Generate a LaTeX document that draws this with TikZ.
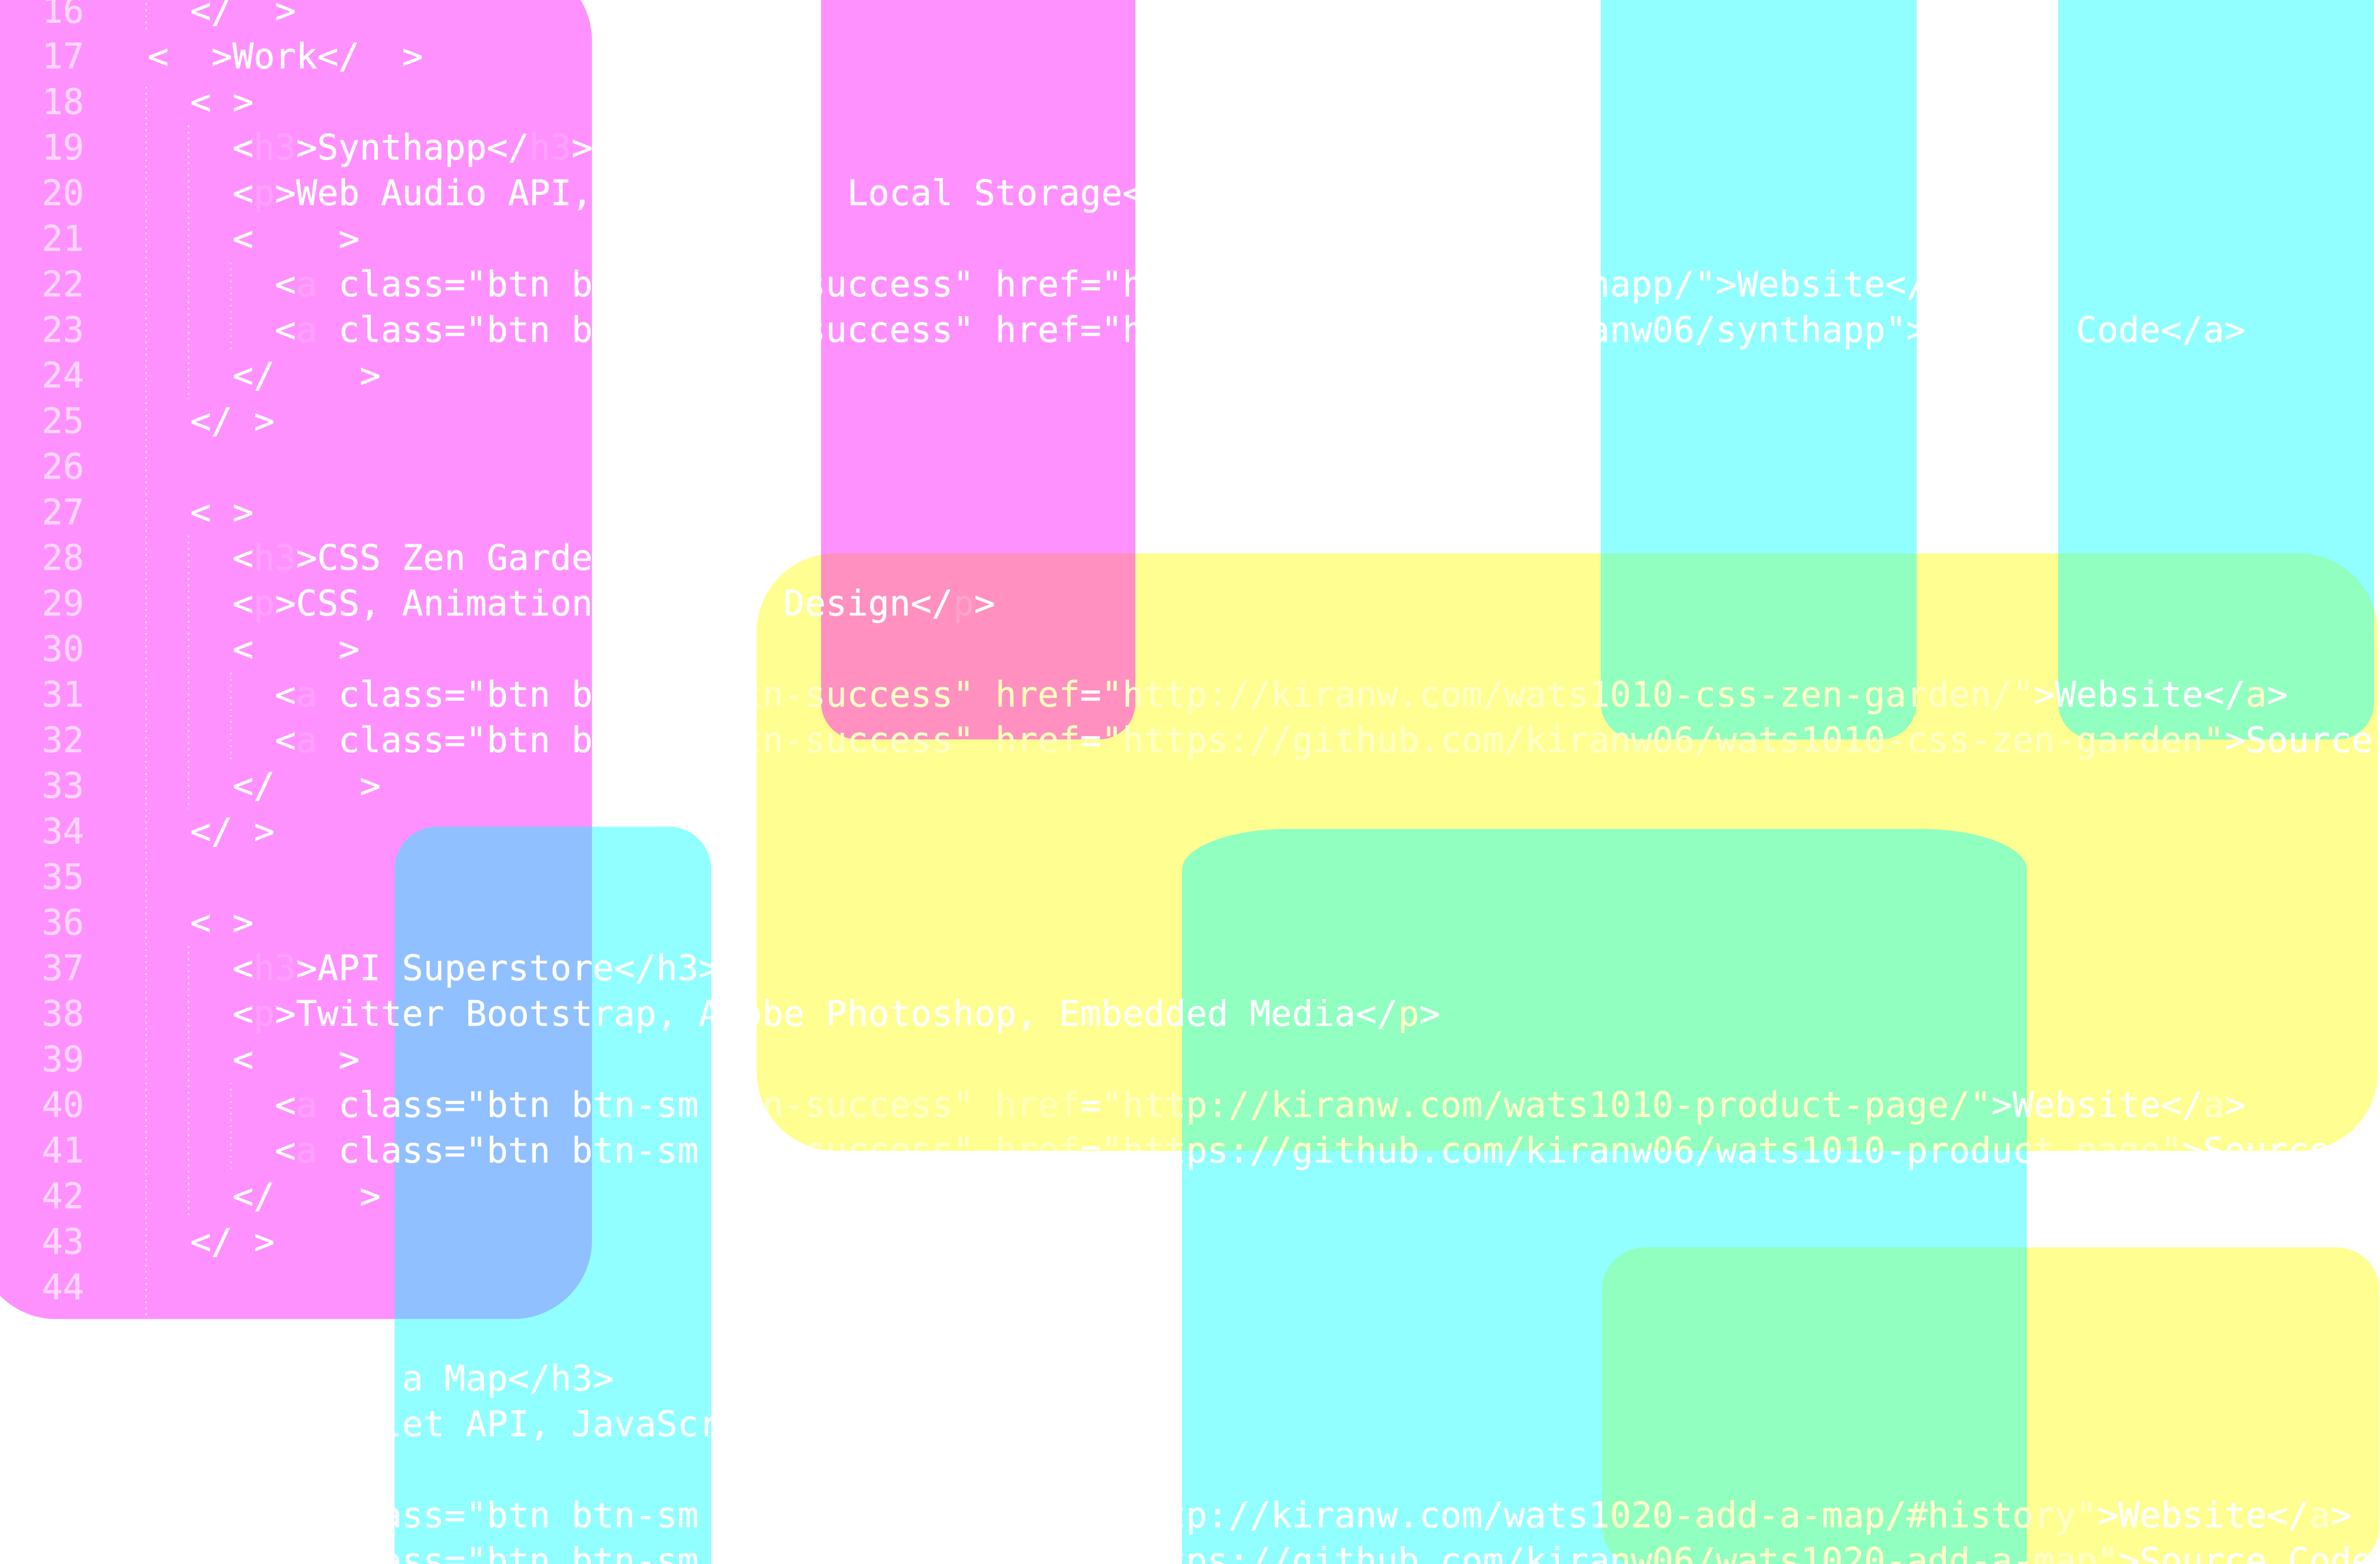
\documentclass[tikz,border=0pt]{standalone}
\usepackage{fontspec}
\newfontfamily\codefont{DejaVu Sans Mono}[FakeBold=0.7]
\definecolor{pmag}{RGB}{255,0,255}
\definecolor{pcya}{RGB}{0,255,255}
\definecolor{pyel}{RGB}{255,255,0}
\definecolor{tagM}{RGB}{255,160,255}
\definecolor{tagP}{RGB}{255,162,204}
\definecolor{fadeY}{RGB}{255,255,200}
\definecolor{attY}{RGB}{255,255,186}
\definecolor{numc}{RGB}{255,214,255}
\definecolor{guidec}{RGB}{255,200,255}
\newcommand\tM[1]{\textcolor{tagM}{#1}}
\newcommand\tP[1]{\textcolor{tagP}{#1}}
\newcommand\tY[1]{\textcolor{fadeY}{#1}}
\newcommand\sY[1]{\textcolor{fadeY}{#1}}
\newcommand\aY[1]{\textcolor{attY}{#1}}
\newcommand\cx[1]{27.5+13.96*#1}
\newcommand\by[1]{30.03*#1-465.51}
% rounded box path: x1 y1 x2 y2 rx ry (same orientation for every box)
\newcommand\rrect[6]{%
 (#1+#5,#2) -- (#3-#5,#2) .. controls (#3-0.448*#5,#2) and (#3,#2+0.448*#6) .. (#3,#2+#6)
 -- (#3,#4-#6) .. controls (#3,#4-0.448*#6) and (#3-0.448*#5,#4) .. (#3-#5,#4)
 -- (#1+#5,#4) .. controls (#1+0.448*#5,#4) and (#1,#4-0.448*#6) .. (#1,#4-#6)
 -- (#1,#2+#6) .. controls (#1,#2+0.448*#6) and (#1+0.448*#5,#2) .. (#1+#5,#2) -- cycle}
\newcommand\boxYa{\rrect{498.5}{364.5}{1566.5}{758}{52}{52}}
\newcommand\boxYb{\rrect{1055.5}{821.7}{1567.5}{1033}{28}{28}}
\newcommand\boxMa{\rrect{-15}{-25}{390}{868.8}{52}{52}}
\newcommand\boxMb{\rrect{541}{-40}{748}{487}{24}{24}}
\newcommand\boxCa{\rrect{1054.7}{-40}{1262.7}{487}{24}{24}}
\newcommand\boxCb{\rrect{1356}{-40}{1564}{487}{24}{24}}
\newcommand\boxCc{\rrect{260}{544.5}{468.5}{1080}{28}{28}}
\newcommand\boxCd{\rrect{778.7}{546}{1335.3}{1080}{70}{27}}
\tikzset{
  ybox/.style={fill=pyel, fill opacity=0.43},
  mbox/.style={fill=pmag, fill opacity=0.43},
  cbox/.style={fill=pcya, fill opacity=0.43},
  code/.style={anchor=base west, inner sep=0pt, outer sep=0pt,
    font=\codefont\fontsize{23.19}{27}\selectfont, text=white},
  lnum/.style={code, text=numc},
  guide/.style={draw=guidec, line width=1.4pt, dash pattern=on 1.4pt off 2.6pt}
}
\begin{document}
\begin{tikzpicture}[x=1pt,y=-1pt]
\useasboundingbox (0,0) rectangle (1568,1030);
\begin{scope}
\clip (0,0) rectangle (1568,1030);
% shapes: yellow below, magenta above, cyan on top
\fill[ybox] \boxYa;
\fill[ybox] \boxYb;
\fill[mbox] \boxMa;
\fill[mbox] \boxMb;
\fill[cbox] \boxCa;
\fill[cbox] \boxCb;
\fill[cbox] \boxCc;
\fill[cbox] \boxCd;
\begin{scope}
\clip \boxYa \boxYb \boxMa \boxMb \boxCa \boxCb \boxCc \boxCd;
% indentation guides
\draw[guide] (96.3,-30) -- (96.3,20);
\draw[guide] (96.3,57) -- (96.3,870);
\draw[guide] (124.2,82.6) -- (124.2,262.7);
\draw[guide] (124.2,352.8) -- (124.2,533);
\draw[guide] (124.2,623) -- (124.2,803);
\draw[guide] (152.1,172.7) -- (152.1,232.7);
\draw[guide] (152.1,442.9) -- (152.1,502.9);
\draw[guide] (152.1,713) -- (152.1,773);
% line numbers
\foreach \n in {16,...,45} {\node[lnum] (n\n) at (\cx{0},\by{\n}) {\n};}
% code
\node[code] (l16) at (\cx{7},\by{16}) {</~~>};
\node[code] (l17) at (\cx{5},\by{17}) {<~~>Work</~~>};
\node[code] (l18) at (\cx{7},\by{18}) {<~>};
\node[code] (l19) at (\cx{9},\by{19}) {<\tM{h3}>Synthapp</\tM{h3}>};
\node[code] (l20a) at (\cx{9},\by{20}) {<\tM{p}>Web Audio API,};
\node[code] (l20b) at (\cx{38},\by{20}) {Local Storage<};
\node[code] (l21) at (\cx{9},\by{21}) {<~~~~>};
\node[code] (l22a) at (\cx{11},\by{22}) {<\tM{a}~class="btn b};
\node[code] (l22b) at (\cx{36},\by{22}) {success"~href="h};
\node[code] (l22c) at (\cx{73},\by{22}) {happ/">Website</};
\node[code] (l23a) at (\cx{11},\by{23}) {<\tM{a}~class="btn b};
\node[code] (l23b) at (\cx{36},\by{23}) {success"~href="h};
\node[code] (l23c) at (\cx{73},\by{23}) {anw06/synthapp">};
\node[code] (l23d) at (\cx{96},\by{23}) {Code</a>};
\node[code] (l24) at (\cx{9},\by{24}) {</~~~~>};
\node[code] (l25) at (\cx{7},\by{25}) {</~>};
\node[code] (l27) at (\cx{7},\by{27}) {<~>};
\node[code] (l28) at (\cx{9},\by{28}) {<\tM{h3}>CSS Zen Garde};
\node[code] (l29a) at (\cx{9},\by{29}) {<\tM{p}>CSS, Animation};
\node[code] (l29b) at (\cx{35},\by{29}) {Design</\tP{p}>};
\node[code] (l30) at (\cx{9},\by{30}) {<~~~~>};
\node[code] (l31a) at (\cx{11},\by{31}) {<\tM{a}~class="btn b};
\node[code] (l31b) at (\cx{33},\by{31}) {\sY{tn-success"}~\aY{href}=\sY{"http://kiranw.com/wats1010-css-zen-garden/"}>Website</\tY{a}>};
\node[code] (l32a) at (\cx{11},\by{32}) {<\tM{a}~class="btn b};
\node[code] (l32b) at (\cx{33},\by{32}) {\sY{tn-success"}~\aY{href}=\sY{"https://github.com/kiranw06/wats1010-css-zen-garden"}>Source Code</\tY{a}>};
\node[code] (l33) at (\cx{9},\by{33}) {</~~~~>};
\node[code] (l34) at (\cx{7},\by{34}) {</~>};
\node[code] (l36) at (\cx{7},\by{36}) {<~>};
\node[code] (l37) at (\cx{9},\by{37}) {<\tM{h3}>API Superstore</h3>};
\node[code] (l38) at (\cx{9},\by{38}) {<\tM{p}>Twitter Bootstrap, Adobe Photoshop, Embedded Media</\tY{p}>};
\node[code] (l39) at (\cx{9},\by{39}) {<~~~~>};
\node[code] (l40a) at (\cx{11},\by{40}) {<\tM{a}~class="btn btn-sm};
\node[code] (l40b) at (\cx{33},\by{40}) {\sY{tn-success"}~\aY{href}=\sY{"http://kiranw.com/wats1010-product-page/"}>Website</\tY{a}>};
\node[code] (l41a) at (\cx{11},\by{41}) {<\tM{a}~class="btn btn-sm};
\node[code] (l41b) at (\cx{33},\by{41}) {tn-success"~href="https://github.com/kiranw06/wats1010-product-page">Source Code</a>};
\node[code] (l42) at (\cx{9},\by{42}) {</~~~~>};
\node[code] (l43) at (\cx{7},\by{43}) {</~>};
\node[code] (l46) at (\cx{17},\by{46}) {a Map</h3>};
\node[code] (l47) at (\cx{16},\by{47}) {let API, JavaScr};
\node[code] (l49a) at (\cx{16},\by{49}) {ass="btn btn-sm};
\node[code] (l49b) at (\cx{53},\by{49}) {tp://kiranw.com/wats1020-add-a-map/\#history">Website</a>};
\node[code] (l50a) at (\cx{16},\by{50}) {ass="btn btn-sm};
\node[code] (l50b) at (\cx{53},\by{50}) {tps://github.com/kiranw06/wats1020-add-a-map">Source Code</a>};
% the same three lines where they lie on yellow, in the faded tones
\begin{scope}
\clip \boxYa \boxYb;
\node[code] (y41b) at (\cx{33},\by{41}) {\sY{tn-success"}~\aY{href}=\sY{"https://github.com/kiranw06/wats1010-product-page"}>Source Code</\tY{a}>};
\node[code] (y49b) at (\cx{53},\by{49}) {\sY{tp://kiranw.com/wats1020-add-a-map/\#history"}>Website</\tY{a}>};
\node[code] (y50b) at (\cx{53},\by{50}) {\sY{tps://github.com/kiranw06/wats1020-add-a-map"}>Source Code</\tY{a}>};
\end{scope}
\end{scope}
\end{scope}
\end{tikzpicture}
\end{document}
